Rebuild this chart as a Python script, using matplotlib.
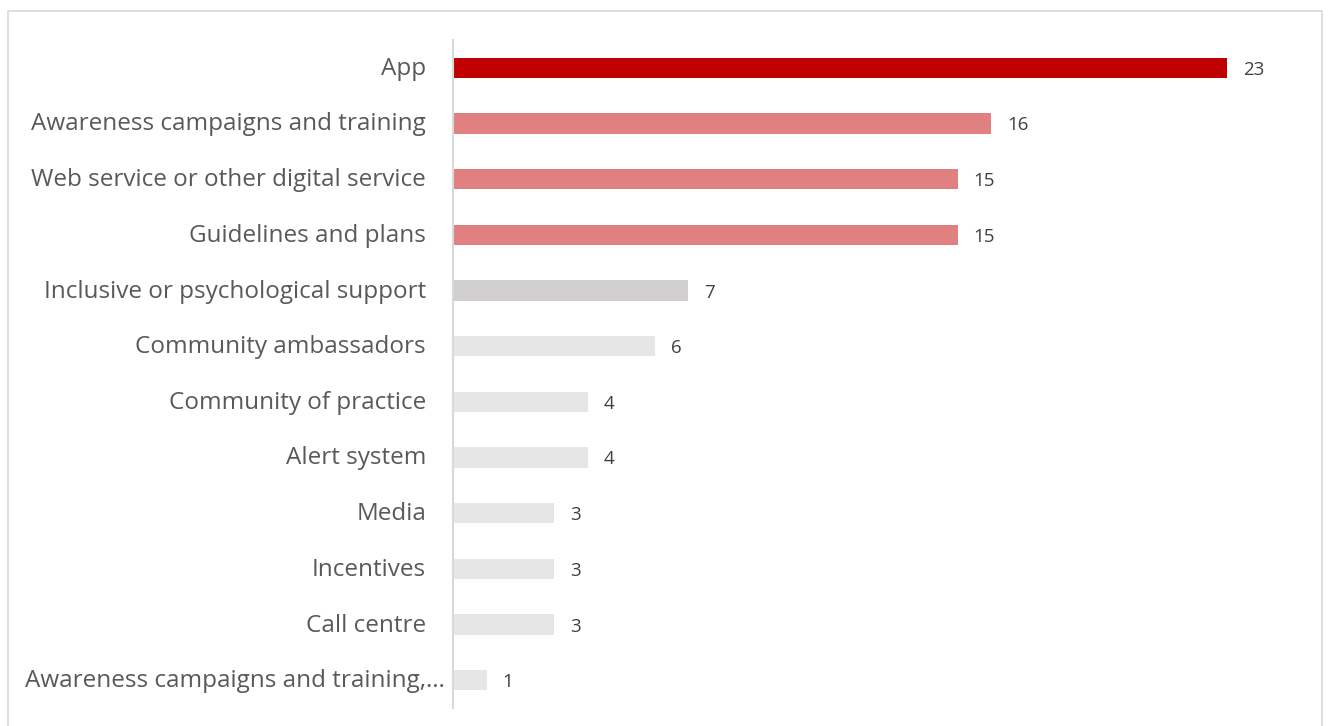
import matplotlib
matplotlib.use("Agg")
import matplotlib.pyplot as plt
from matplotlib.patches import Rectangle

plt.rcParams['font.family'] = ['Open Sans', 'DejaVu Sans']

categories = [
    "App",
    "Awareness campaigns and training",
    "Web service or other digital service",
    "Guidelines and plans",
    "Inclusive or psychological support",
    "Community ambassadors",
    "Community of practice",
    "Alert system",
    "Media",
    "Incentives",
    "Call centre",
    "Awareness campaigns and training,…",
]
values = [23, 16, 15, 15, 7, 6, 4, 4, 3, 3, 3, 1]
colors = ["#C00000", "#E08080", "#E08080", "#E08080", "#D0CECE",
          "#E7E6E6", "#E7E6E6", "#E7E6E6", "#E7E6E6", "#E7E6E6",
          "#E7E6E6", "#E7E6E6"]

W, H = 1328, 726
fig = plt.figure(figsize=(W / 100, H / 100), dpi=100)

# outer frame
fig.patches.append(Rectangle((8 / W, -0.05), (1322 - 8) / W, 1.05 - 11 / H,
                             transform=fig.transFigure, fill=False,
                             edgecolor="#D9D9D9", linewidth=1.2))

left, right = 453 / W, 1294 / W
top, bottom = 1 - 40 / H, 1 - 708 / H
ax = fig.add_axes([left, bottom, right - left, top - bottom])

pos = list(range(len(categories)))
ax.barh(pos, values, height=0.37, color=colors)
ax.set_ylim(len(categories) - 0.5, -0.5)
ax.set_xlim(0, 25)

ax.set_yticks(pos)
ax.set_yticklabels([])
ax.tick_params(axis="y", length=0)
ax.set_xticks([])

# category labels, the truncated one sits closer to the axis
for p, name in zip(pos, categories):
    dx = -8 if name.endswith("…") else -27
    ax.annotate(name, (0, p), xytext=(dx, -1), textcoords="offset pixels",
                va="center", ha="right", fontsize=17.5, color="#595959",
                annotation_clip=False)

for s in ("top", "right", "bottom"):
    ax.spines[s].set_visible(False)
ax.spines["left"].set_color("#D9D9D9")
ax.spines["left"].set_linewidth(1.5)

for p, v in zip(pos, values):
    ax.annotate(str(v), (v, p), xytext=(16, -2), textcoords="offset pixels",
                va="center", ha="left", fontsize=13.5, color="#404040")

fig.savefig("out.png", dpi=100)
